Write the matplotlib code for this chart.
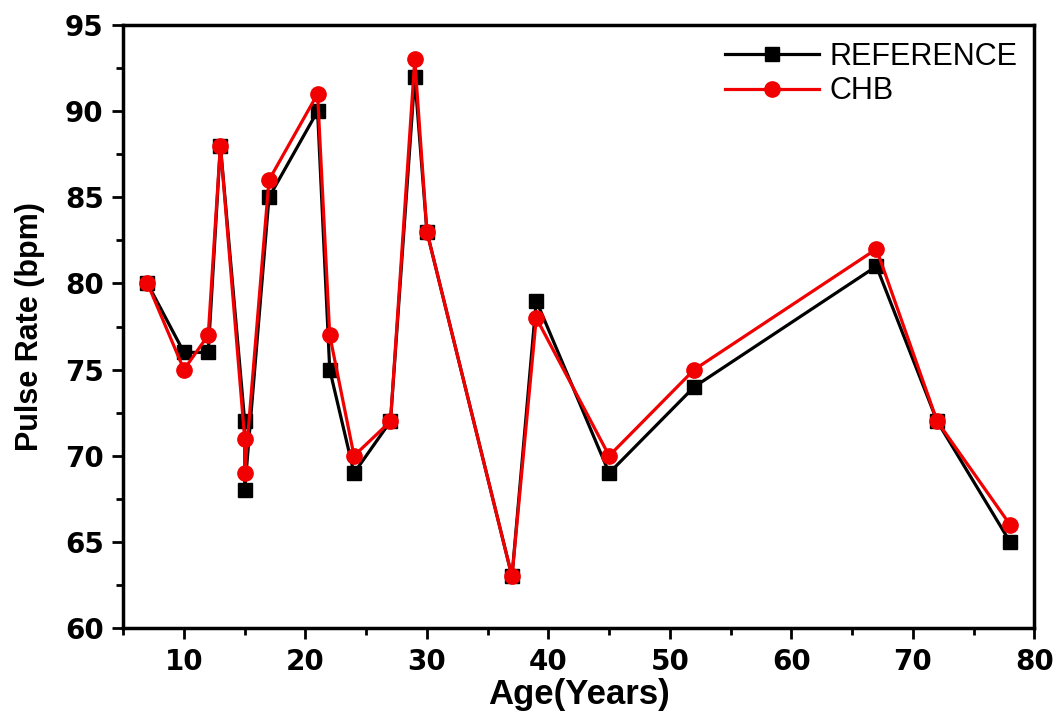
import matplotlib
matplotlib.use("Agg")
import matplotlib.pyplot as plt
from matplotlib.ticker import MultipleLocator

plt.rcParams['font.family'] = ['Liberation Sans', 'DejaVu Sans']

age = [7, 10, 12, 13, 15, 15, 17, 21, 22, 24, 27, 29, 30, 37, 39, 45, 52, 67, 72, 78]
reference = [80, 76, 76, 88, 72, 68, 85, 90, 75, 69, 72, 92, 83, 63, 79, 69, 74, 81, 72, 65]
chb = [80, 75, 77, 88, 71, 69, 86, 91, 77, 70, 72, 93, 83, 63, 78, 70, 75, 82, 72, 66]

fig = plt.figure(figsize=(10.62, 7.13), dpi=100)
ax = fig.add_axes([0.116, 0.119, 0.858, 0.846])

ax.plot(age, reference, color='black', marker='s', markersize=10, linewidth=2.3,
        label='REFERENCE')
ax.plot(age, chb, color='#f00000', marker='o', markersize=11, linewidth=2.3,
        label='CHB')

ax.set_xlim(5, 80)
ax.set_ylim(60, 95)
ax.xaxis.set_major_locator(MultipleLocator(10))
ax.xaxis.set_minor_locator(MultipleLocator(5))
ax.yaxis.set_major_locator(MultipleLocator(5))
ax.yaxis.set_minor_locator(MultipleLocator(2.5))
ax.tick_params(which='major', length=8, width=2, direction='out', pad=6)
ax.tick_params(which='minor', length=5, width=2, direction='out')
for lab in ax.get_xticklabels() + ax.get_yticklabels():
    lab.set_fontweight('bold')
    lab.set_fontfamily('DejaVu Sans')
    lab.set_fontsize(20)
for sp in ax.spines.values():
    sp.set_linewidth(2.5)

ax.set_xlabel('Age(Years)', fontsize=25, fontweight='bold', labelpad=2)
ax.set_ylabel('Pulse Rate (bpm)', fontsize=22, fontweight='bold', labelpad=14)

ax.legend(loc='upper right', frameon=False, fontsize=22, handlelength=3.1,
          handletextpad=0.33, labelspacing=0.15, borderaxespad=0.15)

fig.savefig('out.png', dpi=100)
